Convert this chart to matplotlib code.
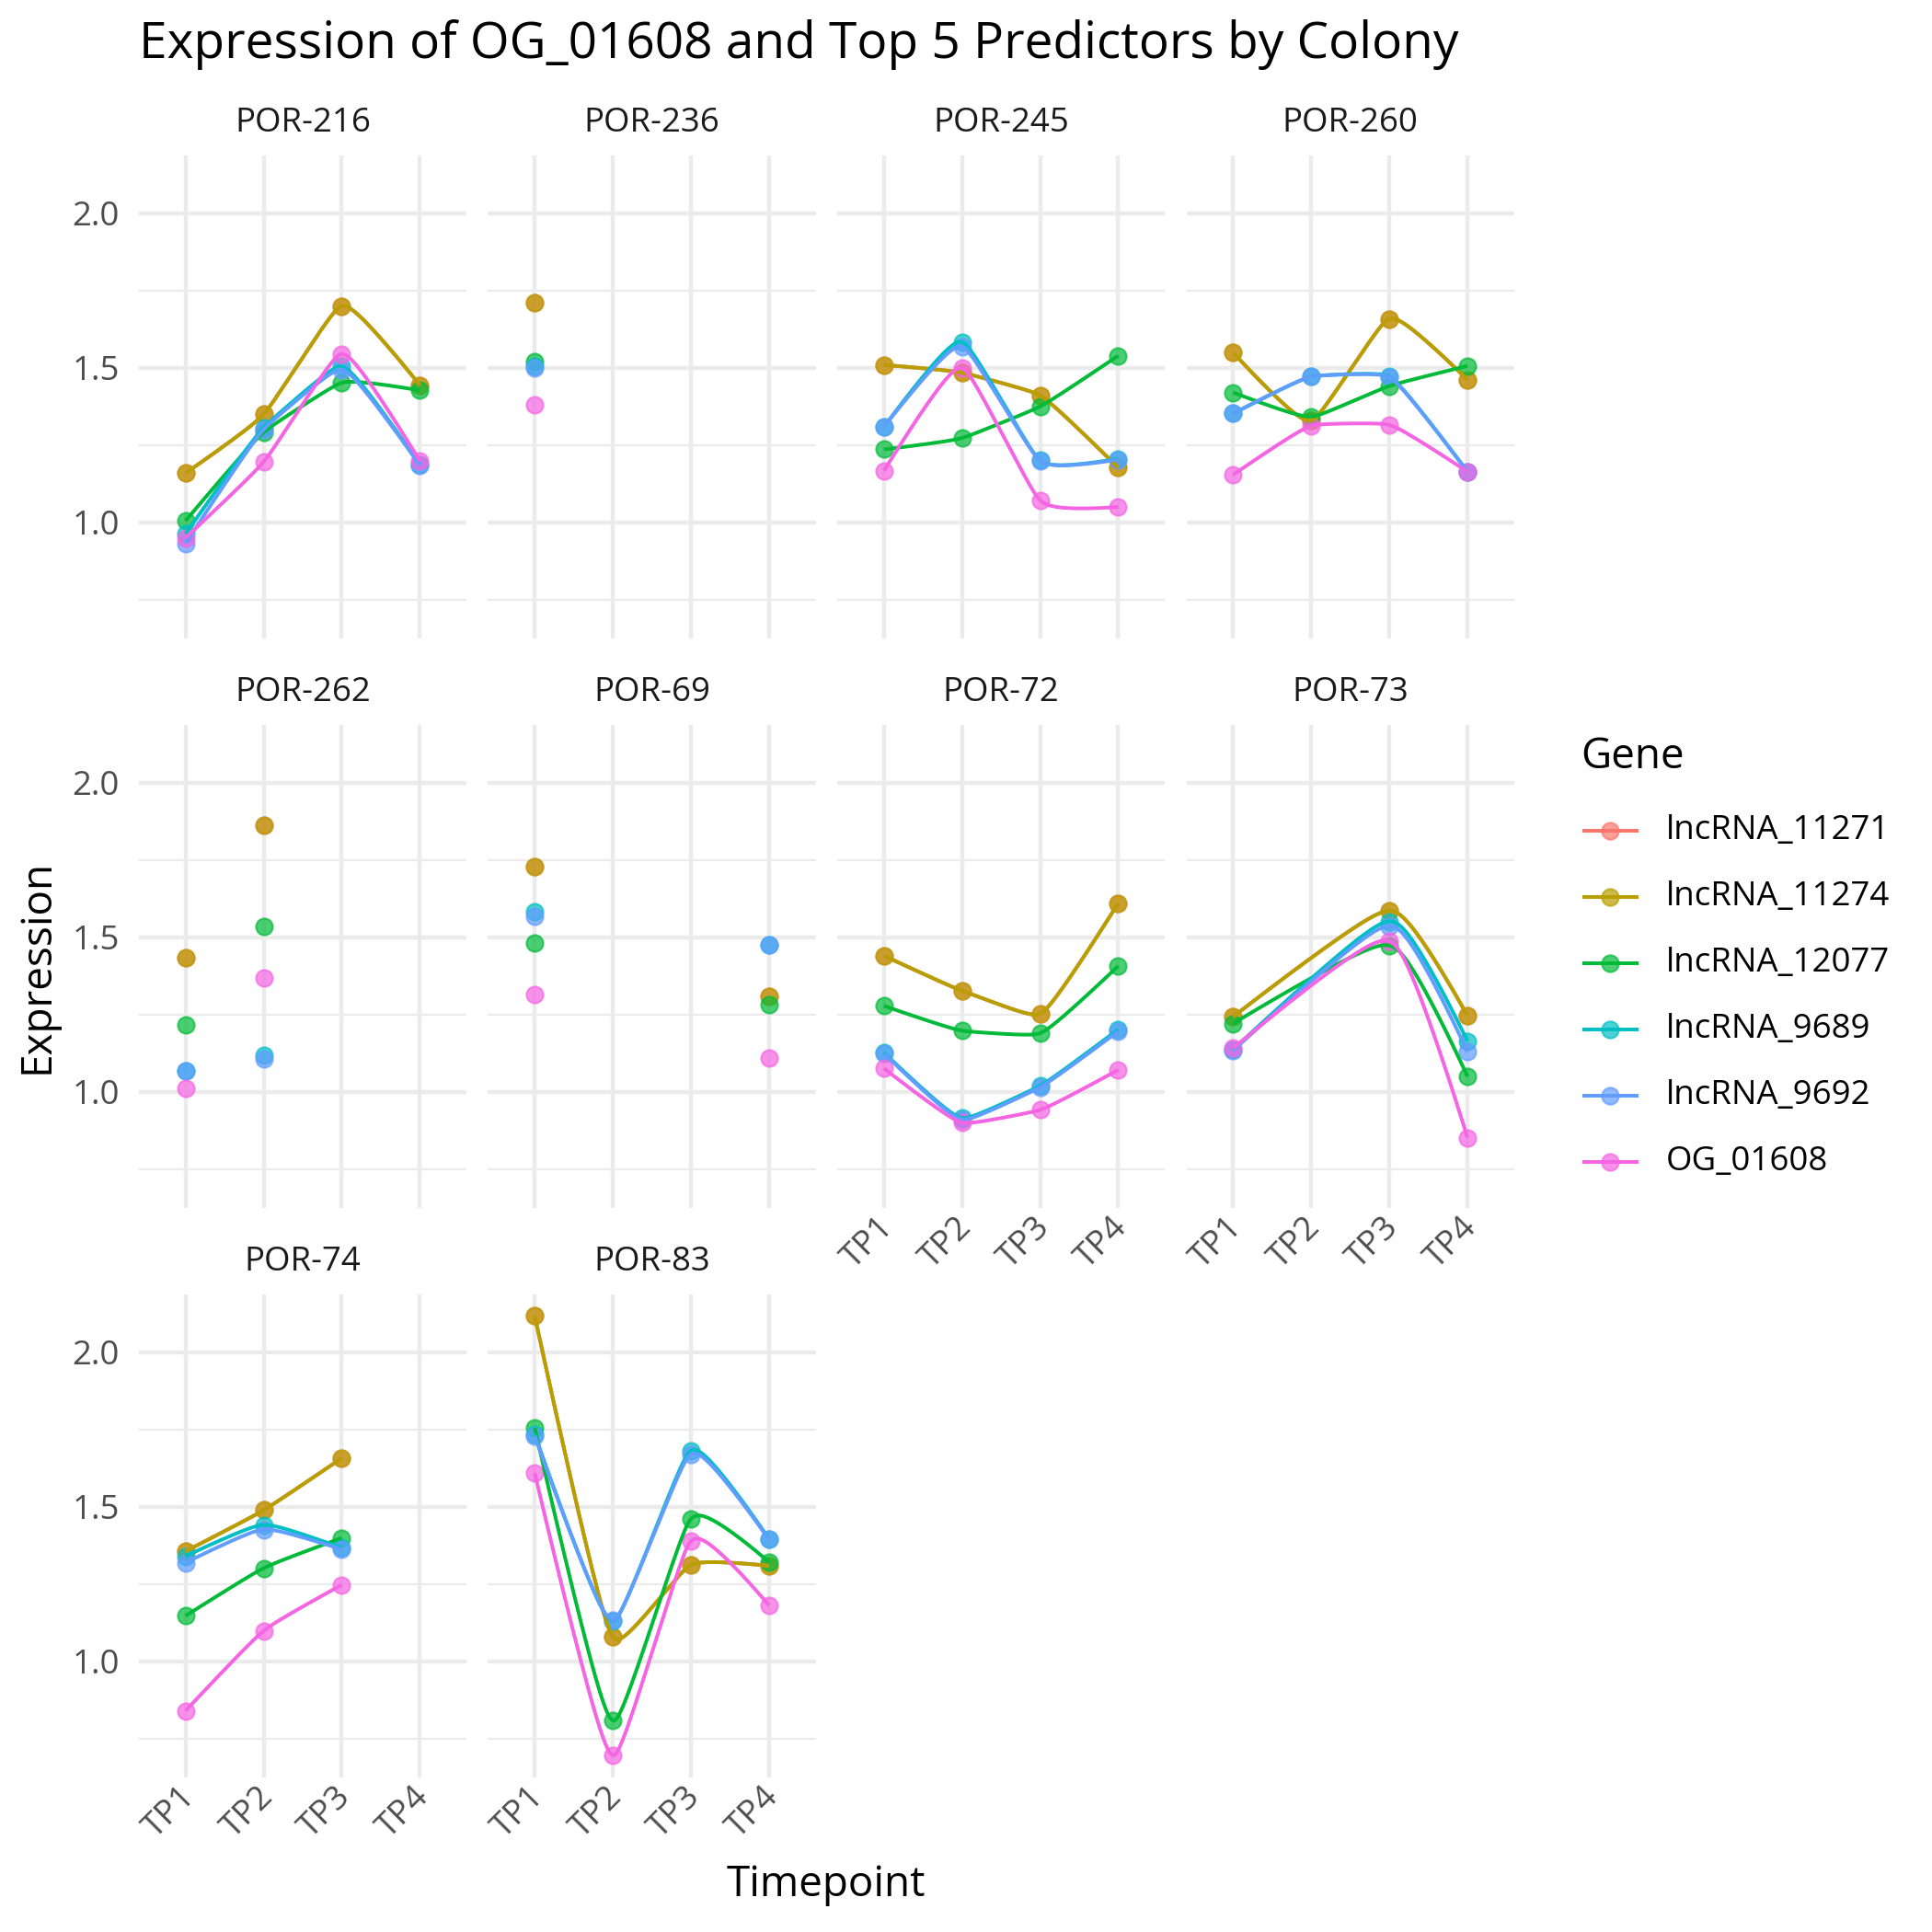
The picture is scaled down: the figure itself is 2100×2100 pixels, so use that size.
import numpy as np
import matplotlib
matplotlib.use("Agg")
import matplotlib.pyplot as plt
import matplotlib.transforms as mtransforms
from matplotlib.lines import Line2D

plt.rcParams['font.family'] = ['Open Sans', 'DejaVu Sans']

# ---------------- data ----------------
timepoints = ["TP1", "TP2", "TP3", "TP4"]
genes = ["lncRNA_11271", "lncRNA_11274", "lncRNA_12077", "lncRNA_9689", "lncRNA_9692", "OG_01608"]
colors = ["#F8766D", "#B79F00", "#00BA38", "#00BFC4", "#619CFF", "#F564E3"]
colonies = ["POR-216", "POR-236", "POR-245", "POR-260", "POR-262",
            "POR-69", "POR-72", "POR-73", "POR-74", "POR-83"]
nan = np.nan

POR_216 = {
    "lncRNA_11271": [1.159, 1.350, 1.699, 1.444],
    "lncRNA_11274": [1.159, 1.350, 1.699, 1.444],
    "lncRNA_12077": [1.005, 1.291, 1.451, 1.427],
    "lncRNA_9689":  [0.963, 1.306, 1.504, 1.187],
    "lncRNA_9692":  [0.932, 1.300, 1.494, 1.185],
    "OG_01608":     [0.950, 1.196, 1.544, 1.199],
}
POR_236 = {
    "lncRNA_11271": [1.710, nan, nan, nan],
    "lncRNA_11274": [1.710, nan, nan, nan],
    "lncRNA_12077": [1.521, nan, nan, nan],
    "lncRNA_9689":  [1.504, nan, nan, nan],
    "lncRNA_9692":  [1.500, nan, nan, nan],
    "OG_01608":     [1.380, nan, nan, nan],
}
POR_245 = {
    "lncRNA_11271": [1.509, 1.484, 1.410, 1.177],
    "lncRNA_11274": [1.509, 1.484, 1.410, 1.177],
    "lncRNA_12077": [1.236, 1.273, 1.375, 1.539],
    "lncRNA_9689":  [1.309, 1.583, 1.201, 1.206],
    "lncRNA_9692":  [1.309, 1.568, 1.200, 1.203],
    "OG_01608":     [1.167, 1.499, 1.072, 1.050],
}
POR_260 = {
    "lncRNA_11271": [1.549, 1.330, 1.658, 1.461],
    "lncRNA_11274": [1.549, 1.330, 1.658, 1.461],
    "lncRNA_12077": [1.420, 1.342, 1.441, 1.506],
    "lncRNA_9689":  [1.352, 1.471, 1.471, 1.164],
    "lncRNA_9692":  [1.352, 1.471, 1.469, 1.164],
    "OG_01608":     [1.154, 1.312, 1.315, 1.164],
}
POR_262 = {
    "lncRNA_11271": [1.434, 1.861, nan, nan],
    "lncRNA_11274": [1.434, 1.861, nan, nan],
    "lncRNA_12077": [1.218, 1.536, nan, nan],
    "lncRNA_9689":  [1.069, 1.119, nan, nan],
    "lncRNA_9692":  [1.069, 1.107, nan, nan],
    "OG_01608":     [1.012, 1.367, nan, nan],
}
POR_69 = {
    "lncRNA_11271": [1.727, nan, nan, 1.308],
    "lncRNA_11274": [1.727, nan, nan, 1.308],
    "lncRNA_12077": [1.481, nan, nan, 1.283],
    "lncRNA_9689":  [1.583, nan, nan, 1.474],
    "lncRNA_9692":  [1.567, nan, nan, 1.474],
    "OG_01608":     [1.314, nan, nan, 1.109],
}
POR_72 = {
    "lncRNA_11271": [1.440, 1.327, 1.253, 1.610],
    "lncRNA_11274": [1.440, 1.327, 1.253, 1.610],
    "lncRNA_12077": [1.278, 1.198, 1.190, 1.407],
    "lncRNA_9689":  [1.127, 0.916, 1.020, 1.202],
    "lncRNA_9692":  [1.124, 0.911, 1.015, 1.196],
    "OG_01608":     [1.076, 0.901, 0.942, 1.071],
}
POR_73 = {
    "lncRNA_11271": [1.243, nan, 1.585, 1.246],
    "lncRNA_11274": [1.243, nan, 1.585, 1.246],
    "lncRNA_12077": [1.221, nan, 1.473, 1.050],
    "lncRNA_9689":  [1.137, nan, 1.551, 1.164],
    "lncRNA_9692":  [1.134, nan, 1.536, 1.130],
    "OG_01608":     [1.141, nan, 1.486, 0.852],
}
POR_74 = {
    "lncRNA_11271": [1.356, 1.489, 1.657, nan],
    "lncRNA_11274": [1.356, 1.489, 1.657, nan],
    "lncRNA_12077": [1.147, 1.301, 1.399, nan],
    "lncRNA_9689":  [1.340, 1.441, 1.367, nan],
    "lncRNA_9692":  [1.319, 1.426, 1.362, nan],
    "OG_01608":     [0.840, 1.098, 1.247, nan],
}
POR_83 = {
    "lncRNA_11271": [2.117, 1.080, 1.311, 1.309],
    "lncRNA_11274": [2.117, 1.080, 1.311, 1.309],
    "lncRNA_12077": [1.755, 0.809, 1.460, 1.321],
    "lncRNA_9689":  [1.734, 1.131, 1.681, 1.396],
    "lncRNA_9692":  [1.729, 1.133, 1.670, 1.394],
    "OG_01608":     [1.609, 0.697, 1.388, 1.181],
}
colony_data = [POR_216, POR_236, POR_245, POR_260, POR_262,
               POR_69, POR_72, POR_73, POR_74, POR_83]


# ---------------- X-spline (open, repeated ends) ----------------
def _f_blend(num, den):
    p = 2 * den * den
    u = num / den
    return u ** 3 * (10 - p + (2 * p - 15) * u + (6 - p) * u * u)


def _g_blend(u, q):
    return u * (q + u * (2 * q + u * (10 - q + u * (2 * q - 15 + u * (6 - q)))))


def _h_blend(u, q):
    u2 = u * u
    return u * (q + u * (2 * q + u2 * (-2 * q - u * q)))


def _segment(P, s1, s2, ts):
    out = []
    for t in ts:
        if s1 < 0:
            A0 = _h_blend(-t, -s1)
            A2 = _g_blend(t, -s1)
        else:
            Tk = 1 + s1
            A0 = _f_blend(t + 1 - Tk, 0 - Tk) if t + 1 < Tk else 0.0
            Tk = 1 - s1
            A2 = _f_blend(t + 1 - Tk, 2 - Tk)
        if s2 < 0:
            A1 = _g_blend(1 - t, -s2)
            A3 = _h_blend(t - 1, -s2)
        else:
            Tk = 2 + s2
            A1 = _f_blend(t + 1 - Tk, 1 - Tk)
            Tk = 2 - s2
            A3 = _f_blend(t + 1 - Tk, 3 - Tk) if t + 1 > Tk else 0.0
        A = np.array([A0, A1, A2, A3])
        out.append(A @ P / A.sum())
    return out


def xspline(x, y, shape=-0.35, nstep=60):
    n = len(x)
    pts = np.column_stack([x, y])
    s = np.full(n, shape)
    s[0] = 0.0
    s[-1] = 0.0
    ts = np.linspace(0, 1, nstep, endpoint=False)
    curve = []
    idx = [0, 0, 1, 2 if n > 2 else 1]
    k = 0
    while True:
        curve += _segment(pts[idx], s[idx[1]], s[idx[2]], ts)
        if k + 3 >= n:
            break
        idx = [k, k + 1, k + 2, k + 3]
        k += 1
    idx = [n - 3, n - 2, n - 1, n - 1]
    curve += _segment(pts[idx], s[idx[1]], s[idx[2]], ts)
    curve.append(pts[-1])
    c = np.array(curve)
    return c[:, 0], c[:, 1]


# ---------------- figure ----------------
W = H = 2100.0
fig = plt.figure(figsize=(7, 7), dpi=300)
fig.patch.set_facecolor("white")

left0, xstep, pw = 150.7, 379.6, 356.5
top0, ystep, ph = 168.5, 619.0, 525.0
ylim = (0.626, 2.188)
xlim = (0.4, 4.6)
grid_col = "#EBEBEB"
tick_col = "#4D4D4D"

bottom_in_col = {0: 2, 1: 2, 2: 1, 3: 1}
shift = mtransforms.ScaledTranslation(5 / 300.0, 0, fig.dpi_scale_trans)

for idx, (name, data) in enumerate(zip(colonies, colony_data)):
    r, c = divmod(idx, 4)
    l = left0 + c * xstep
    t = top0 + r * ystep
    ax = fig.add_axes([l / W, 1 - (t + ph) / H, pw / W, ph / H])
    ax.set_xlim(*xlim)
    ax.set_ylim(*ylim)
    for s in ax.spines.values():
        s.set_visible(False)
    ax.set_xticks([1, 2, 3, 4])
    ax.set_yticks([1.0, 1.5, 2.0])
    ax.set_yticks([0.75, 1.25, 1.75], minor=True)
    ax.grid(True, which="major", color=grid_col, lw=1.07)
    ax.grid(True, which="minor", axis="y", color=grid_col, lw=0.55)
    ax.set_axisbelow(True)
    ax.tick_params(which="both", length=0)
    ax.tick_params(axis="y", pad=5, labelsize=8.8, labelcolor=tick_col)
    ax.tick_params(axis="x", pad=4, labelsize=8.8, labelcolor=tick_col)
    if c == 0:
        ax.set_yticklabels(["1.0", "1.5", "2.0"])
    else:
        ax.set_yticklabels([])
    if bottom_in_col[c] == r:
        ax.set_xticklabels(timepoints, rotation=45, ha="right", va="center",
                           rotation_mode="anchor")
        for lab in ax.get_xticklabels():
            lab.set_transform(lab.get_transform() + shift)
    else:
        ax.set_xticklabels([])

    ax.text(0.5, 1 + (168.5 - 134.0) / ph, name, transform=ax.transAxes,
            ha="center", va="center", fontsize=8.8, color="#1A1A1A")

    xs = np.arange(1, 5, dtype=float)
    for g, col in zip(genes, colors):
        y = np.asarray(data[g], dtype=float)
        m = ~np.isnan(y)
        ax.scatter(xs[m], y[m], s=19, color=col, alpha=0.7, edgecolors=col,
                   linewidths=0.5, zorder=3)
    for g, col in zip(genes, colors):
        y = np.asarray(data[g], dtype=float)
        m = ~np.isnan(y)
        if m.sum() >= 3:
            cx, cy = xspline(xs[m], y[m])
            ax.plot(cx, cy, color=col, lw=0.95, zorder=4, solid_capstyle="butt")

# titles
fig.text(151 / W, 1 - 63 / H, "Expression of OG_01608 and Top 5 Predictors by Colony",
         fontsize=13.2, ha="left", va="baseline", color="black")
fig.text(40 / W, 1 - 1050 / H, "Expression", rotation=90, fontsize=11,
         ha="center", va="center")
fig.text(898 / W, 1 - 2049 / H, "Timepoint", fontsize=11, ha="center", va="center")

# legend
fig.text(1718 / W, 1 - 823 / H, "Gene", fontsize=11, ha="left", va="center")
for i, (g, col) in enumerate(zip(genes, colors)):
    yy = 1 - (903 + 72 * i) / H
    fig.add_artist(Line2D([1722 / W, 1779 / W], [yy, yy], color=col, lw=0.95,
                          transform=fig.transFigure))
    fig.add_artist(Line2D([1750 / W], [yy], marker="o", markersize=4.4, color=col,
                          alpha=0.7, markeredgewidth=0.5, transform=fig.transFigure))
    fig.text(1811 / W, yy, g, fontsize=8.8, ha="left", va="center", color="black")

fig.savefig("out.png", dpi=300, facecolor="white")
